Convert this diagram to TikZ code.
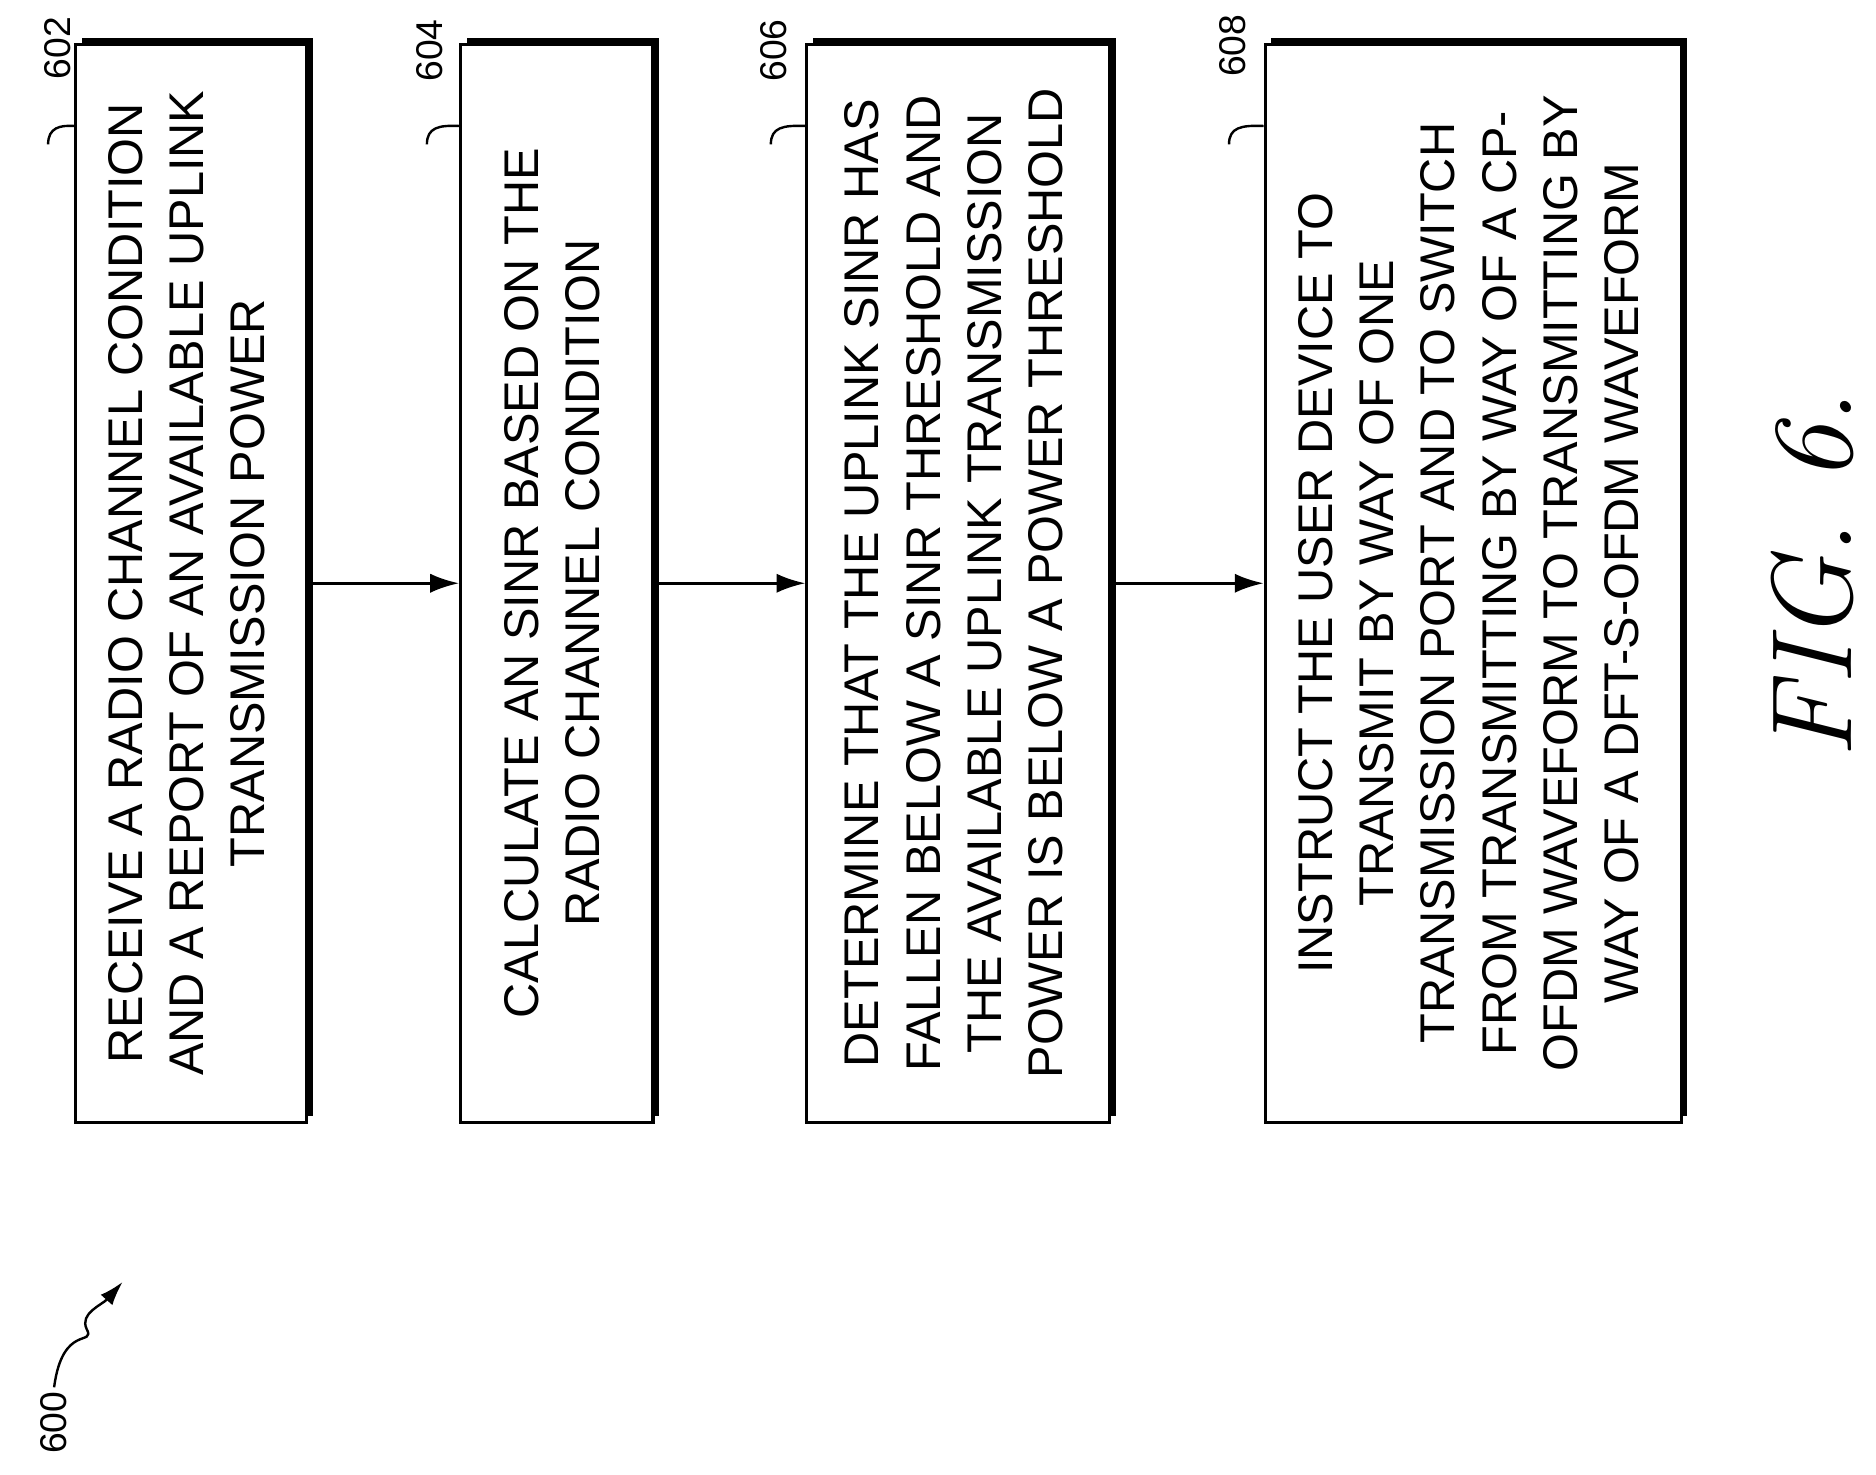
\documentclass[tikz,border=0pt]{standalone}
\usepackage{fontspec}
\setmainfont{Latin Modern Roman}
\newfontfamily\boxfont{Liberation Sans}
\usetikzlibrary{shadows,arrows.meta}
\tikzset{
  stepbox/.style={draw, line width=2.5pt, fill=white, inner sep=0pt,
    general shadow={shadow xshift=5pt, shadow yshift=5pt, fill=black},
    minimum height=896pt, font=\boxfont\fontsize{40.5}{51}\selectfont},
  flow/.style={line width=2.5pt, -{Latex[length=24pt,width=16pt]}},
  refnum/.style={rotate=90, font=\boxfont\fontsize{31}{31}\selectfont},
}
\newcommand{\vtext}[1]{\rotatebox{90}{\begin{tabular}{@{}c@{}}#1\end{tabular}}}
\begin{document}
\begin{tikzpicture}[x=1pt,y=1pt]
  \useasboundingbox (0,0) rectangle (1560,-1226.5);
  % steps
  \node[stepbox, minimum width=192pt] (s602) at (159,-485)
    {\vtext{RECEIVE A RADIO CHANNEL CONDITION\\AND A REPORT OF AN AVAILABLE UPLINK\\TRANSMISSION POWER}};
  \node[stepbox, minimum width=160pt] (s604) at (463,-485)
    {\vtext{CALCULATE AN SINR BASED ON THE\\RADIO CHANNEL CONDITION}};
  \node[stepbox, minimum width=252pt] (s606) at (797,-485)
    {\vtext{DETERMINE THAT THE UPLINK SINR HAS\\FALLEN BELOW A SINR THRESHOLD AND\\THE AVAILABLE UPLINK TRANSMISSION\\POWER IS BELOW A POWER THRESHOLD}};
  \node[stepbox, minimum width=346pt] (s608) at (1225,-485)
    {\vtext{INSTRUCT THE USER DEVICE TO\\TRANSMIT BY WAY OF ONE\\TRANSMISSION PORT AND TO SWITCH\\FROM TRANSMITTING BY WAY OF A CP-\\OFDM WAVEFORM TO TRANSMITTING BY\\WAY OF A DFT-S-OFDM WAVEFORM}};
  \draw[flow] (s602) -- (s604);
  \draw[flow] (s604) -- (s606);
  \draw[flow] (s606) -- (s608);
  % reference numerals
  \node[refnum] (n602) at (48,-40) {602};
  \node[refnum] (n604) at (357,-42) {604};
  \node[refnum] (n606) at (643,-42) {606};
  \node[refnum] (n608) at (1025,-38) {608};
  \foreach \s/\x in {602/40, 604/355, 606/641, 608/1022} {
    \path (s\s.north west) ++(0,-69) coordinate (h\s);
    \draw[line width=2pt] (\x,-120) .. controls (\x,-106) and (\x+10,-104) .. (h\s);
  }
  \node[refnum] (n600) at (45,-1183) {600};
  \draw[line width=2pt, -{Latex[length=20pt,width=13pt]}] (n600.east) .. controls (52,-1100) and (80,-1120) .. (72,-1105)
    .. controls (66,-1092) and (85,-1085) .. (102,-1066);
  % figure label
  \node[rotate=90, font=\fontsize{95}{95}\selectfont\itshape] (fig) at (1507,-478) {FIG. 6.};
\end{tikzpicture}
\end{document}
